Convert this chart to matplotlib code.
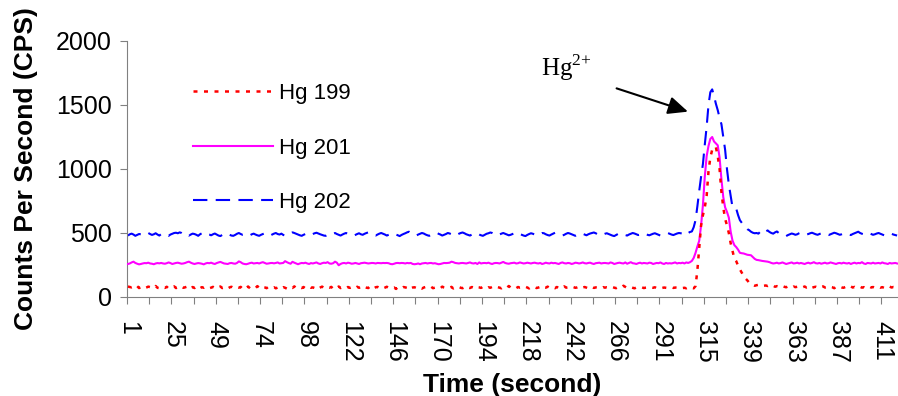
import numpy as np
import matplotlib.pyplot as plt

plt.rcParams['font.family'] = ['Liberation Sans', 'DejaVu Sans']

# rotulos de tempo (um a cada 24 pontos)
time_labels = ['1', '25', '49', '74', '98', '122', '146', '170', '194', '218',
               '242', '266', '291', '315', '339', '363', '387', '411']

# Hg 199 (CPS)
hg199 = [
    82, 78, 75, 80, 72, 85, 70, 76, 79, 68, 74, 81, 77, 73, 70, 86, 72, 69, 78, 75,
    71, 80, 66, 74, 77, 83, 70, 75, 68, 79, 72, 76, 81, 65, 73, 78, 70, 84, 74, 69,
    77, 72, 80, 75, 68, 73, 79, 71, 66, 76, 82, 70, 74, 78, 67, 75, 80, 72, 69, 77,
    73, 79, 64, 76, 71, 82, 68, 74, 77, 70, 85, 72, 66, 78, 75, 69, 80, 73, 71, 76,
    68, 74, 81, 70, 77, 72, 65, 79, 75, 71, 83, 69, 74, 76, 70, 78, 67, 73, 80, 72,
    75, 70, 78, 66, 74, 81, 72, 68, 77, 73, 79, 64, 75, 71, 82, 70, 76, 73, 68, 78,
    71, 77, 74, 69, 80, 72, 75, 66, 78, 73, 70, 84, 74, 68, 76, 79, 71, 75, 67, 73,
    80, 72, 76, 70, 74, 63, 77, 73, 69, 78, 75, 71, 82, 68, 74, 76, 70, 79, 73, 66,
    74, 78, 71, 75, 80, 69, 73, 77, 72, 68, 81, 74, 70, 76, 73, 79, 67, 75, 71, 78,
    72, 69, 76, 83, 74, 70, 78, 73, 66, 77, 75, 71, 80, 74, 68, 76, 72, 79, 70, 75,
    77, 73, 68, 79, 75, 72, 86, 74, 70, 76, 69, 78, 73, 75, 71, 80, 74, 67, 77, 72,
    76, 70, 74, 79, 68, 75, 73, 81, 71, 77, 74, 69, 78, 72, 76, 70, 83, 73, 75, 71,
    69, 77, 72, 75, 80, 70, 74, 78, 73, 67, 76, 79, 71, 75, 72, 74, 70, 77, 73, 76,
    74, 71, 78, 73, 69, 76, 72, 75, 88, 79, 70, 74, 77, 72, 68, 75, 71, 73, 76, 70,
    73, 75, 70, 74, 72, 76, 69, 73, 75, 71, 74, 72, 70, 73, 76, 71, 74, 72, 75, 70,
    70, 72, 68, 75, 70, 72, 68, 85, 210, 390, 560, 640, 700, 790, 980, 1090, 1150,
    1175, 1170, 1100, 1000, 820, 700, 610, 560, 500, 420, 360, 300, 280, 245, 215,
    190, 165, 145, 130, 112, 100, 94, 88, 92, 95, 90, 94, 88,
    90, 86, 92, 84, 88, 80, 85, 82, 78, 86, 80, 76, 83, 79, 74, 82, 77, 80, 73, 79,
    76, 82, 74, 78, 85, 72, 77, 80, 75, 70, 79, 83, 74, 77, 72, 80, 76, 69, 78, 74,
    81, 75, 72, 78, 70, 76, 83, 74, 79, 71, 75, 80, 73, 77, 70, 76, 82, 74, 78, 72,
    76, 80, 73, 77, 71, 79, 75, 82, 74, 78, 76, 80,
]

# Hg 201 (CPS)
hg201 = [
    258, 262, 270, 276, 266, 260, 255, 258, 262, 265, 264, 268, 262, 260, 256, 262, 265, 263, 266, 262,
    260, 264, 270, 265, 258, 262, 266, 268, 264, 260, 262, 266, 272, 276, 268, 262, 258, 262, 265, 263,
    260, 255, 262, 266, 264, 268, 262, 258, 265, 270, 274, 268, 262, 260, 258, 264, 266, 262, 260, 266,
    278, 272, 262, 258, 256, 260, 265, 268, 262, 264, 266, 262, 268, 272, 266, 260, 262, 265, 266, 263,
    266, 270, 262, 264, 266, 280, 272, 265, 260, 275, 268, 262, 256, 262, 266, 264, 268, 262, 258, 265,
    262, 266, 270, 262, 258, 264, 268, 266, 272, 262, 260, 264, 276, 268, 248, 258, 264, 266, 262, 268,
    265, 260, 262, 266, 262, 258, 264, 266, 268, 265, 262, 264, 266, 265, 262, 266, 265, 264, 266, 265,
    266, 264, 258, 256, 260, 265, 266, 264, 266, 265, 262, 266, 264, 266, 258, 256, 258, 262, 256, 262,
    264, 266, 262, 265, 266, 262, 264, 260, 256, 258, 262, 266, 265, 266, 268, 276, 272, 266, 264, 262,
    265, 266, 264, 262, 266, 270, 264, 262, 266, 258, 270, 262, 265, 266, 264, 268, 262, 258, 264, 266,
    265, 262, 268, 274, 266, 262, 260, 264, 266, 268, 262, 264, 270, 266, 262, 264, 268, 265, 262, 266,
    268, 264, 262, 266, 258, 262, 268, 264, 262, 268, 264, 266, 262, 258, 266, 270, 264, 262, 266, 264,
    258, 262, 268, 266, 262, 265, 270, 264, 262, 266, 268, 262, 258, 264, 266, 268, 262, 265, 266, 264,
    262, 270, 266, 258, 262, 266, 268, 264, 262, 270, 260, 266, 272, 264, 262, 258, 264, 268, 262, 266,
    264, 262, 268, 266, 258, 262, 266, 264, 270, 262, 258, 266, 262, 264, 262, 266, 270, 262, 266, 264,
    268, 262, 270, 266, 272, 282, 305, 345, 395, 440, 560, 720, 940, 1100, 1180, 1235, 1250,
    1215, 1200, 1185, 1090, 920, 780, 700, 665, 620, 510, 440, 405, 390, 370, 345, 342,
    340, 335, 330, 328, 326, 312, 298, 290, 288, 285, 282, 280,
    278, 276, 272, 266, 262, 264, 268, 262, 265, 270, 264, 258, 262, 266, 270, 262, 264, 268, 262, 266,
    262, 258, 264, 268, 262, 266, 272, 264, 262, 266, 260, 264, 268, 262, 264, 270, 266, 262, 258, 264,
    266, 262, 268, 264, 262, 266, 258, 264, 268, 262, 266, 264, 272, 262, 258, 266, 264, 262, 268, 262,
    264, 266, 262, 270, 264, 262, 258, 266, 262, 264, 266, 262,
]

# Hg 202 (CPS)
hg202 = [
    480, 490, 495, 488, 478, 485, 492, 490, 482, 488, 495, 500, 492, 485, 490, 498, 488, 480, 492, 496,
    490, 485, 478, 488, 494, 500, 502, 498, 505, 500, 490, 486, 492, 480, 488, 495, 492, 486, 478, 490,
    498, 505, 500, 492, 488, 482, 490, 496, 488, 480, 476, 485, 492, 498, 490, 486, 480, 478, 485, 494,
    500, 492, 486, 488, 480, 476, 482, 490, 495, 488, 482, 478, 486, 492, 498, 494, 486, 480, 488, 495,
    500, 492, 488, 495, 485, 480, 488, 492, 496, 505, 500, 494, 488, 482, 478, 486, 492, 488, 480, 485,
    492, 498, 502, 496, 490, 485, 480, 478, 486, 492, 488, 494, 500, 492, 486, 480, 488, 495, 500, 492,
    488, 482, 478, 485, 492, 498, 490, 486, 494, 500, 505, 498, 492, 485, 480, 488, 495, 500, 494, 488,
    480, 486, 492, 498, 494, 488, 482, 476, 485, 492, 498, 505, 510, 500, 492, 486, 480, 488, 494, 500,
    496, 488, 482, 478, 486, 492, 498, 502, 494, 488, 480, 486, 492, 500, 496, 490, 484, 478, 486, 494,
    500, 504, 498, 490, 485, 480, 488, 494, 500, 496, 488, 482, 478, 486, 494, 498, 504, 500, 492, 486,
    480, 488, 495, 500, 494, 488, 482, 486, 492, 498, 505, 500, 492, 486, 480, 476, 485, 492, 498, 494,
    488, 482, 486, 494, 500, 498, 490, 484, 480, 488, 495, 502, 498, 492, 486, 480, 486, 494, 500, 496,
    490, 484, 478, 486, 492, 498, 494, 488, 482, 490, 496, 500, 504, 498, 490, 484, 480, 488, 494, 498,
    492, 486, 480, 476, 484, 492, 498, 496, 490, 484, 480, 488, 494, 500, 496, 490, 484, 488, 494, 498,
    492, 486, 482, 488, 494, 498, 492, 486, 480, 484, 490, 496, 500, 494, 488, 484, 490, 496, 500, 498,
    495, 505, 492, 500, 508, 512, 545, 600, 710, 830, 940, 1040, 1190, 1330, 1500, 1600, 1622,
    1570, 1510, 1460, 1400, 1350, 1250, 1150, 1000, 880, 790, 700, 695, 690, 640, 600, 580,
    560, 545, 530, 522, 510, 502, 498, 500, 495, 510, 520, 505,
    512, 520, 508, 500, 495, 505, 512, 500, 494, 488, 480, 476, 484, 490, 496, 492, 486, 490, 498, 504,
    500, 494, 488, 492, 498, 502, 496, 490, 486, 492, 498, 500, 494, 488, 484, 490, 496, 502, 498, 492,
    486, 490, 496, 500, 494, 488, 484, 492, 498, 504, 510, 500, 494, 490, 496, 502, 498, 492, 486, 490,
    496, 500, 494, 488, 482, 486, 492, 498, 494, 488, 484, 480,
]

x = np.arange(len(hg199))

fig = plt.figure(figsize=(8.98, 3.96), dpi=100)
ax = fig.add_axes([127 / 898, 99 / 396, 771 / 898, 256 / 396])

l202, = ax.plot(x[:len(hg202)], hg202, color='#0000FF', lw=1.5, dashes=(6.9, 4.0), zorder=2)
l201, = ax.plot(x[:len(hg201)], hg201, color='#FF00FF', lw=1.5, zorder=3)
l199, = ax.plot(x, hg199, color='#FF0000', lw=1.8, dashes=(1.6, 2.6),
                dash_capstyle='butt', zorder=4)

ax.legend([l199, l201, l202], ['Hg 199', 'Hg 201', 'Hg 202'], loc='upper left',
          bbox_to_anchor=(0.0856, 0.836), frameon=False, fontsize=16, borderpad=0,
          borderaxespad=0, handlelength=3.6, handletextpad=0.27, labelspacing=1.51)

# eixos
ax.set_xlim(-0.5, len(x) - 0.5)
ax.set_ylim(0, 2000)
ax.set_yticks(range(0, 2001, 500))
ax.set_xticks(np.arange(-0.5, len(x), 12))
ax.set_xticklabels([])
ax.set_xticks(np.arange(0, 24 * len(time_labels), 24), time_labels, minor=True)
ax.tick_params(axis='y', length=5, color='#808080', labelsize=18, pad=6)
ax.tick_params(axis='x', which='major', length=5, color='#808080')
ax.tick_params(axis='x', which='minor', length=0, labelsize=18, pad=17, labelrotation=-90)
for s in ['top', 'right']:
    ax.spines[s].set_visible(False)
for s in ['left', 'bottom']:
    ax.spines[s].set_color('#808080')

ax.set_ylabel('Counts Per Second (CPS)', fontsize=19, fontweight='bold', labelpad=13)
ax.set_xlabel('Time (second)', fontsize=19, fontweight='bold', labelpad=7.5)

# seta do pico
ax.annotate('', xy=(302.9, 1448), xytext=(264.3, 1630),
            arrowprops=dict(arrowstyle='-|>,head_length=0.6,head_width=0.27',
                            mutation_scale=20, lw=1.5, color='black',
                            shrinkA=0, shrinkB=0))
ax.text(223.4, 1727, r'Hg$^{\mathregular{2{+}}}$', family='Liberation Serif', fontsize=18)

plt.savefig('out.png', dpi=100)
